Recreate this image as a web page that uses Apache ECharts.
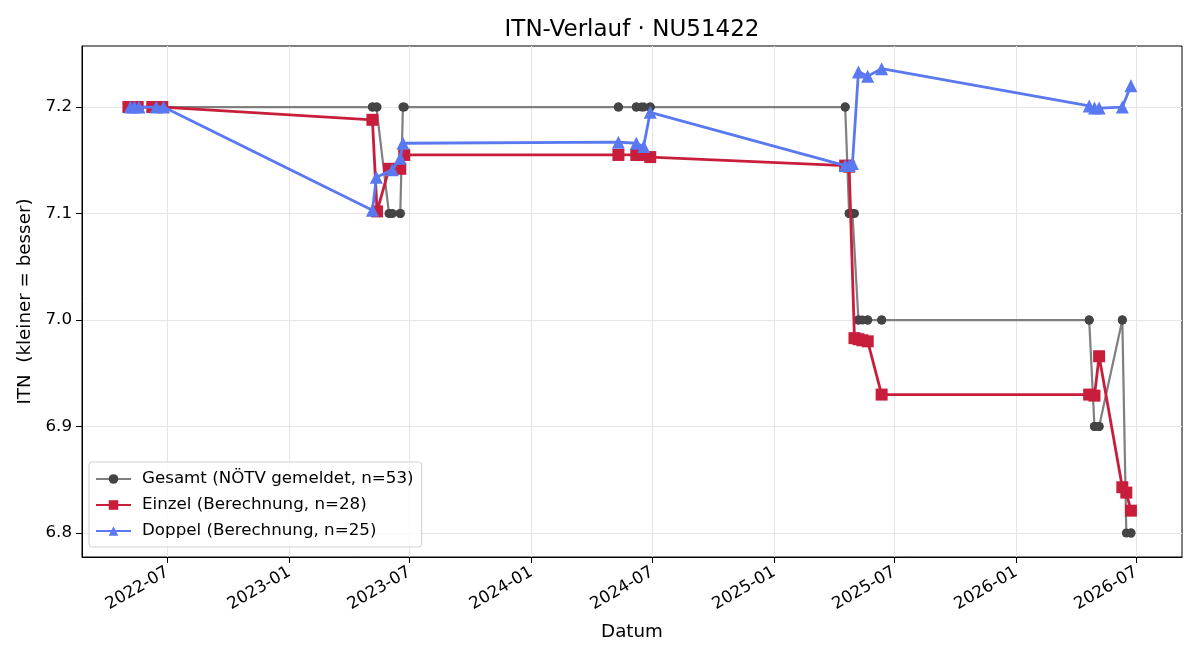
<!DOCTYPE html>
<html>
<head>
<meta charset="utf-8">
<script src="https://cdn.jsdelivr.net/npm/echarts@6/dist/echarts.min.js"></script>
<style>html,body{margin:0;padding:0;background:#fff}#c{width:1200px;height:660px}</style>
</head>
<body>
<div id="c"></div>
<script>
const titleText = 'ITN-Verlauf · NU51422';
const seriesNames = ['Gesamt (NÖTV gemeldet, n=53)', 'Einzel (Berechnung, n=28)', 'Doppel (Berechnung, n=25)'];

const gesamtDates = [
  '2022-05-03','2022-05-06','2022-05-09','2022-05-12','2022-05-17','2022-05-19','2022-06-08','2022-06-14','2022-06-16','2022-06-23','2022-06-25',
  '2023-05-06','2023-05-06','2023-05-12','2023-05-13','2023-05-31','2023-06-05','2023-06-17','2023-06-17','2023-06-21','2023-06-23',
  '2024-05-11','2024-05-11','2024-06-07','2024-06-07','2024-06-15','2024-06-18','2024-06-28','2024-06-28',
  '2025-04-18','2025-04-18','2025-04-24','2025-04-24','2025-04-29','2025-05-02','2025-05-08','2025-05-08','2025-05-14','2025-05-22','2025-05-22','2025-06-12','2025-06-12',
  '2026-04-21','2026-04-21','2026-04-29','2026-04-29','2026-05-06','2026-05-06','2026-06-10','2026-06-10','2026-06-16','2026-06-23','2026-06-23'
];
const gesamtValues = [
  7.2,7.2,7.2,7.2,7.2,7.2,7.2,7.2,7.2,7.2,7.2,
  7.2,7.2,7.2,7.2,7.1,7.1,7.1,7.1,7.2,7.2,
  7.2,7.2,7.2,7.2,7.2,7.2,7.2,7.2,
  7.2,7.2,7.1,7.1,7.1,7.1,7.0,7.0,7.0,7.0,7.0,7.0,7.0,
  7.0,7.0,6.9,6.9,6.9,6.9,7.0,7.0,6.8,6.8,6.8
];

const einzelDates = [
  '2022-05-03','2022-05-09','2022-05-17','2022-06-08','2022-06-16','2022-06-23',
  '2023-05-06','2023-05-13','2023-05-31','2023-06-17','2023-06-23',
  '2024-05-11','2024-06-07','2024-06-15','2024-06-28',
  '2025-04-18','2025-04-24','2025-05-02','2025-05-08','2025-05-14','2025-05-22','2025-06-12',
  '2026-04-21','2026-04-29','2026-05-06','2026-06-10','2026-06-16','2026-06-23'
];
const einzelValues = [
  7.2,7.2,7.2,7.2,7.2,7.2,
  7.188,7.102,7.142,7.142,7.155,
  7.155,7.155,7.155,7.153,
  7.145,7.144,6.983,6.982,6.981,6.980,6.930,
  6.930,6.929,6.966,6.843,6.838,6.821
];

const doppelDates = [
  '2022-05-06','2022-05-12','2022-05-19','2022-06-14','2022-06-25',
  '2023-05-06','2023-05-12','2023-06-05','2023-06-17','2023-06-21',
  '2024-05-11','2024-06-07','2024-06-18','2024-06-28',
  '2025-04-18','2025-04-24','2025-04-29','2025-05-08','2025-05-22','2025-06-12',
  '2026-04-21','2026-04-29','2026-05-06','2026-06-10','2026-06-23'
];
const doppelValues = [
  7.2,7.2,7.2,7.2,7.2,
  7.103,7.134,7.141,7.152,7.166,
  7.167,7.166,7.163,7.195,
  7.145,7.145,7.147,7.233,7.229,7.236,
  7.201,7.199,7.199,7.200,7.220
];

const xTickLabels = ['2022-07-01','2023-01-01','2023-07-01','2024-01-01','2024-07-01','2025-01-01','2025-07-01','2026-01-01','2026-07-01'];
const yTickLabels = [6.8, 6.9, 7.0, 7.1, 7.2];
const xRange = ['2022-02-22', '2026-09-08'];
const yRange = [6.7775, 7.2573];

const ts = s => new Date(s + 'T00:00:00Z').getTime();
const zip = (d, v) => d.map((x, i) => [ts(x), v[i]]);
const xTicks = xTickLabels.map(ts);
const fmtDate = v => {
  const d = new Date(v);
  return d.getUTCFullYear() + '-' + String(d.getUTCMonth() + 1).padStart(2, '0');
};
const FONT = 'DejaVu Sans';

const chart = echarts.init(document.getElementById('c'), null, {renderer: 'canvas'});
chart.setOption({
  animation: false,
  backgroundColor: '#ffffff',
  title: {
    text: titleText, left: 627, top: 14, textAlign: 'center',
    textStyle: {fontFamily: FONT, fontSize: 23, fontWeight: 'normal', color: '#000'}
  },
  grid: {left: 82, right: 18, top: 46, bottom: 103, show: true, borderColor: '#000', borderWidth: 1, backgroundColor: 'transparent'},
  legend: {
    orient: 'vertical', left: 89, top: 462,
    padding: [7, 8, 6, 6],
    itemWidth: 35, itemHeight: 12, itemGap: 6,
    backgroundColor: 'rgba(255,255,255,0.8)',
    borderColor: '#d0d0d0', borderWidth: 1, borderRadius: 3,
    textStyle: {fontFamily: FONT, fontSize: 16.7, lineHeight: 20, color: '#000', padding: [0, 0, 0, 6]},
    data: seriesNames
  },
  xAxis: {
    type: 'value', min: ts(xRange[0]), max: ts(xRange[1]), scale: true,
    name: 'Datum', nameLocation: 'middle', nameGap: 66,
    nameTextStyle: {fontFamily: FONT, fontSize: 18.3, color: '#000'},
    axisLine: {show: true, onZero: false, lineStyle: {color: '#000', width: 1}},
    axisTick: {show: true, length: 6, lineStyle: {color: '#000'}, customValues: xTicks},
    axisLabel: {
      customValues: xTicks, rotate: 30, margin: 14,
      fontFamily: FONT, fontSize: 16.7, color: '#000',
      formatter: fmtDate
    },
    splitLine: {show: true, lineStyle: {color: '#e6e6e6', width: 1}}
  },
  yAxis: {
    type: 'value', min: yRange[0], max: yRange[1], scale: true,
    name: 'ITN  (kleiner = besser)', nameLocation: 'middle', nameGap: 47,
    nameTextStyle: {fontFamily: FONT, fontSize: 18.3, color: '#000'},
    axisLine: {show: true, onZero: false, lineStyle: {color: '#000', width: 1}},
    axisTick: {show: true, length: 6, lineStyle: {color: '#000'}, customValues: yTickLabels},
    axisLabel: {
      customValues: yTickLabels, margin: 10,
      fontFamily: FONT, fontSize: 16.7, color: '#000',
      formatter: v => Number(v).toFixed(1)
    },
    splitLine: {show: true, lineStyle: {color: '#e6e6e6', width: 1}}
  },
  series: [
    {
      name: seriesNames[0], type: 'line', data: zip(gesamtDates, gesamtValues),
      symbol: 'circle', symbolSize: 9, showAllSymbol: true,
      lineStyle: {color: '#7f7f7f', width: 2.2},
      itemStyle: {color: '#444444', borderWidth: 0},
      emphasis: {disabled: true}, z: 2
    },
    {
      name: seriesNames[1], type: 'line', data: zip(einzelDates, einzelValues),
      symbol: 'rect', symbolSize: 12, showAllSymbol: true,
      lineStyle: {color: '#c81e3c', width: 2.8},
      itemStyle: {color: '#c81e3c', borderWidth: 0},
      emphasis: {disabled: true}, z: 3
    },
    {
      name: seriesNames[2], type: 'line', data: zip(doppelDates, doppelValues),
      symbol: 'triangle', symbolSize: 13, showAllSymbol: true,
      lineStyle: {color: '#5a78f0', width: 2.8},
      itemStyle: {color: '#5a78f0', borderWidth: 0},
      emphasis: {disabled: true}, z: 4
    }
  ]
});
</script>
</body>
</html>
